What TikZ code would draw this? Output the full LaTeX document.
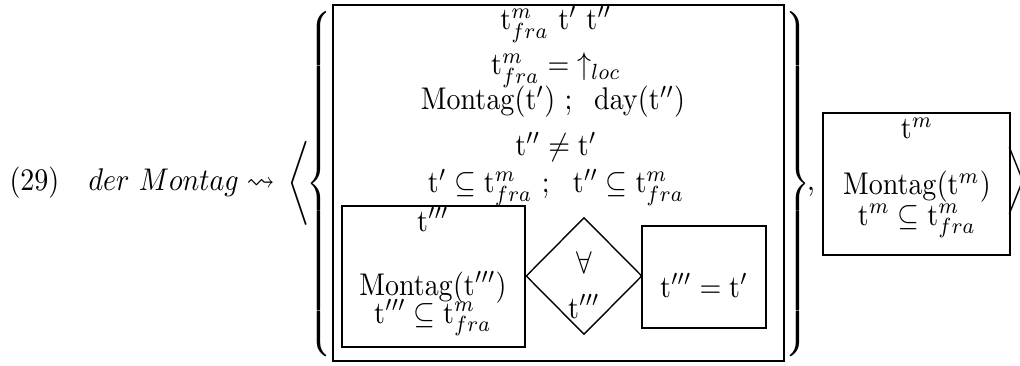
\documentclass[tikz,border=0pt]{standalone}
\usepackage{amsmath,amssymb,graphicx}
\usetikzlibrary{shapes.geometric,fit}
\newcommand{\tr}{\mathrm{t}}
\newcommand{\tfra}{\mathrm{t}^{m}_{fra}}
\newcommand{\Mon}{\mathrm{Montag}}
\newcommand{\vs}[1]{\scalebox{1}[1.12]{#1}}
\newcommand{\bigbrace}[1]{\scalebox{1}[1.08]{$\delimitershortfall=0pt\delimiterfactor=1000#1$}}
\begin{document}
\begin{tikzpicture}[x=0.357pt,y=-0.357pt,
  frame/.style={draw,line width=0.9pt,inner sep=0pt},
  lbl/.style={inner sep=0pt,anchor=base},
  delim/.style={inner sep=0pt,anchor=center},
  diam/.style={draw,diamond,line width=0.5pt,inner sep=0pt}]
\useasboundingbox (0,0) rectangle (1020,366);
% left part
\node[lbl,anchor=base west] (num) at (9,191) {\vs{(29)}};
\node[lbl,anchor=base west] (expr) at (88,191) {\vs{$der\ Montag\leadsto$}};
\node[delim] (lang) at (299,183) {$\Bigg\langle$};
\node[delim] (lbr) at (321,184) {\bigbrace{\left\{\vcenter{\hbox{\vrule height 110pt width 0pt}}\right.}};
% main box
\node[frame,fit={(333,5) (784,361)}] (drs) {};
\node[lbl] (l1) at (556,30) {\vs{$\tfra\ \tr'\ \tr''$}};
\node[lbl] (l2) at (556,75) {\vs{$\tfra = {\uparrow_{loc}}$}};
\node[lbl] (l3) at (553,110) {\vs{$\Mon(\tr')\ ;\;\ \mathrm{day}(\tr'')$}};
\node[lbl] (l4) at (556,156) {\vs{$\tr'' \neq \tr'$}};
\node[lbl] (l5) at (556,193) {\vs{$\tr' \subseteq \tfra\ ;\ \ \tr'' \subseteq \tfra$}};
% sub box
\node[frame,fit={(342,206) (525,347)}] (sub) {};
\node[lbl] (s1) at (433,231) {\vs{$\tr'''$}};
\node[lbl] (s2) at (433,295) {\vs{$\Mon(\tr''')$}};
\node[lbl] (s3) at (433,323) {\vs{$\tr''' \subseteq \tfra$}};
% diamond
\node[diam,minimum width=116*0.357pt,minimum height=117*0.357pt] (dia) at (584,276) {};
\node[lbl] (q1) at (584,273) {\vs{$\forall$}};
\node[lbl] (q2) at (584,318) {\vs{$\tr'''$}};
% consequent box
\node[frame,fit={(642,226) (766,328)}] (cons) {};
\node[lbl] (c1) at (704,297) {\vs{$\tr''' = \tr'$}};
% right brace, comma, second box
\node[delim] (rbr) at (796,184) {\bigbrace{\left.\vcenter{\hbox{\vrule height 110pt width 0pt}}\right\}}};
\node[lbl] (comma) at (811,191) {\vs{,}};
\node[frame,fit={(823,113) (1010,255)}] (rbox) {};
\node[lbl] (r1) at (917,139) {\vs{$\tr^{m}$}};
\node[lbl] (r2) at (917,195) {\vs{$\Mon(\tr^{m})$}};
\node[lbl] (r3) at (917,225) {\vs{$\tr^{m} \subseteq \tfra$}};
\node[delim] (rang) at (1017,181) {$\bigg\rangle$};
\end{tikzpicture}
\end{document}
